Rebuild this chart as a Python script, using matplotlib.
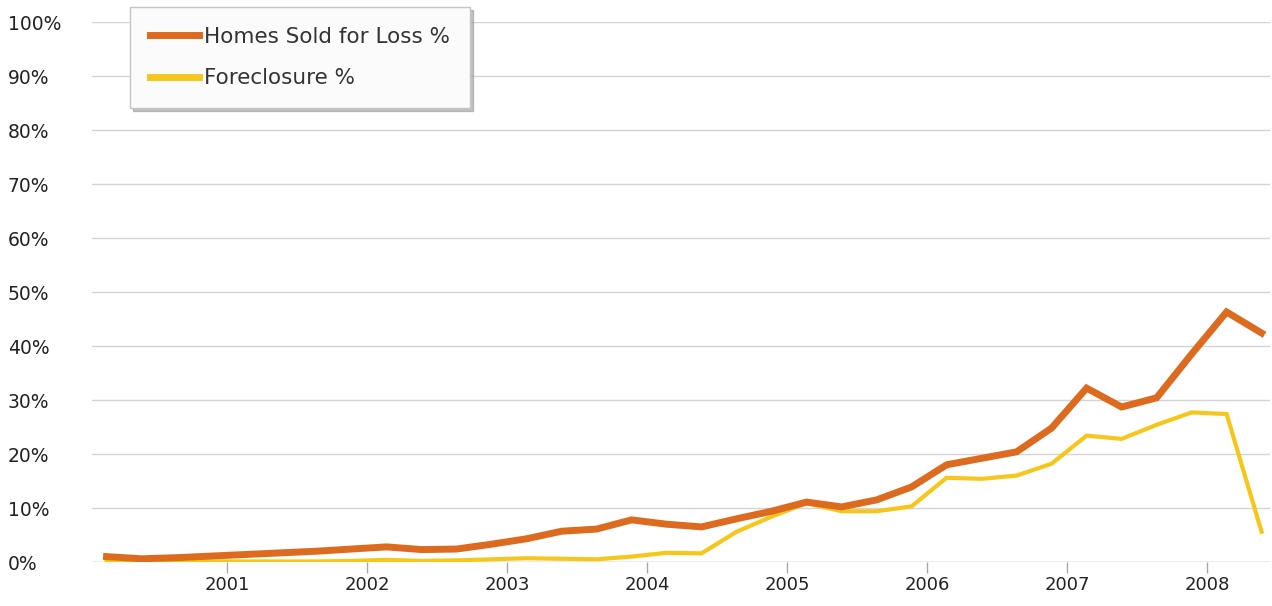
import matplotlib
matplotlib.use("Agg")
import matplotlib.pyplot as plt

# quarterly series, 2000 Q1 .. 2008 Q2
quarters = [f"{y}Q{q}" for y in range(2000, 2009) for q in range(1, 5)][:34]

loss_pct = [1.0, 0.6, 0.8, 1.1,
            1.4, 1.7, 2.0, 2.4,
            2.8, 2.3, 2.4, 3.3,
            4.3, 5.7, 6.1, 7.8,
            7.0, 6.5, 8.0, 9.4,
            11.1, 10.2, 11.5, 13.9,
            18.0, 19.2, 20.4, 24.8,
            32.2, 28.7, 30.4, 38.5,
            46.3, 42.4]

foreclosure_pct = [0.3, 0.1, 0.1, 0.1,
                   0.1, 0.1, 0.1, 0.2,
                   0.4, 0.2, 0.3, 0.5,
                   0.7, 0.6, 0.5, 1.0,
                   1.7, 1.6, 5.6, 8.4,
                   10.9, 9.4, 9.4, 10.3,
                   15.6, 15.4, 16.0, 18.2,
                   23.4, 22.8, 25.4, 27.7,
                   27.4, 5.6]

year_ticks = [2001, 2002, 2003, 2004, 2005, 2006, 2007, 2008]
pct_ticks = list(range(0, 101, 10))

x = [int(s[:4]) + (int(s[5]) - 1) * 0.25 + 0.14 for s in quarters]

W, H = 1272, 606
fig = plt.figure(figsize=(W / 100, H / 100), dpi=100)
ax = fig.add_axes([92 / W, (H - 562) / H, (1270 - 92) / W, (562 - 22) / H])

ax.plot(x, loss_pct, color="#dc6b1f", lw=5, label="Homes Sold for Loss %",
        solid_joinstyle="miter", zorder=3)
ax.plot(x, foreclosure_pct, color="#f6c71a", lw=3, label="Foreclosure %",
        solid_joinstyle="miter", zorder=2)

ax.set_xlim(2000.036, 2008.45)
ax.set_ylim(0, 100)

ax.set_yticks(pct_ticks)
ax.set_yticklabels([f"{v}%" for v in pct_ticks], ha="left", fontsize=13.5, color="#222222")
ax.tick_params(axis="y", length=0, pad=60.5)
ax.set_xticks(year_ticks)
ax.set_xticklabels([str(y) for y in year_ticks], fontsize=13, color="#222222")
ax.tick_params(axis="x", length=8, color="#aaaaaa", width=1, pad=2)

ax.grid(axis="y", color="#d4d4d4", lw=1)
ax.set_axisbelow(True)
for s in ax.spines.values():
    s.set_visible(False)
ax.axhline(0, color="#c8c8c8", lw=1, zorder=1)

leg = ax.legend(loc="upper left", bbox_to_anchor=(130 / W, 1 - 7 / H),
                bbox_transform=fig.transFigure, fontsize=15.5, frameon=True,
                fancybox=False, shadow={"color": "#9a9a9a", "alpha": 0.6},
                handlelength=2.3, handletextpad=0.22, labelspacing=1.0,
                borderpad=0.92, borderaxespad=0)
leg.get_frame().set_edgecolor("#c4c4c4")
leg.get_frame().set_facecolor("#fbfbfb")
leg.get_frame().set_linewidth(1)
for t in leg.get_texts():
    t.set_color("#333333")
for line in leg.get_lines():
    line.set_linewidth(5)

fig.savefig("out.png", dpi=100)
